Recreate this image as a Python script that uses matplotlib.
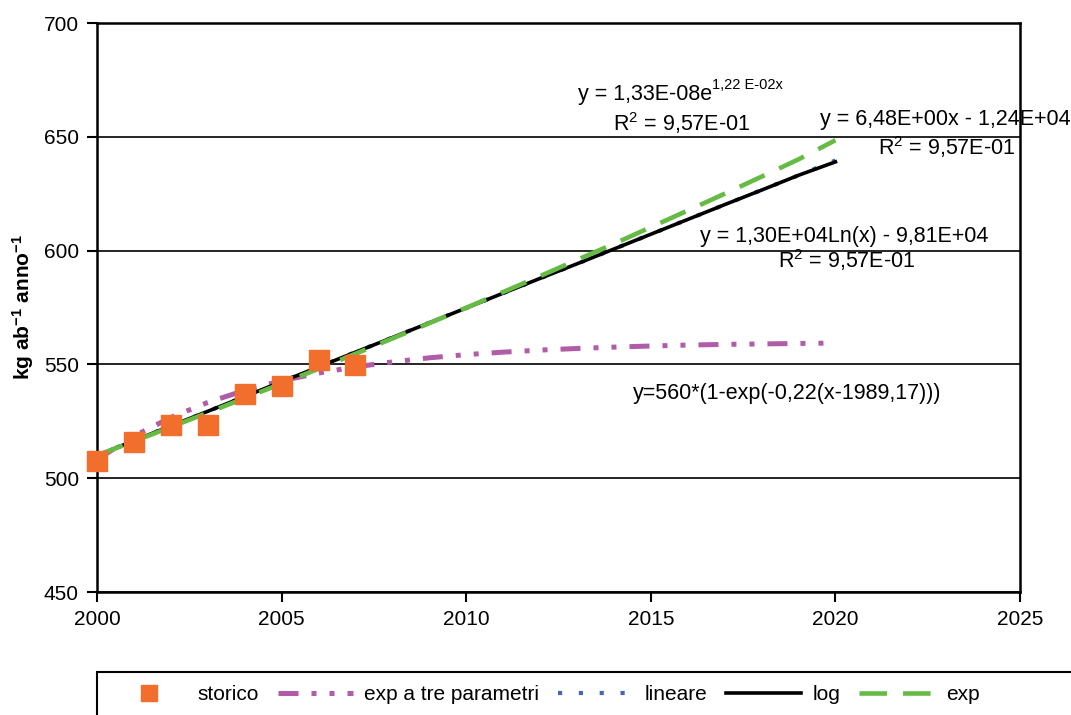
import numpy as np
import matplotlib.pyplot as plt
from matplotlib.patches import Rectangle

plt.rcParams['font.family'] = ['Liberation Sans', 'DejaVu Sans']
plt.rcParams['mathtext.fontset'] = 'custom'
plt.rcParams['mathtext.rm'] = 'Liberation Sans'
plt.rcParams['mathtext.it'] = 'Liberation Sans:italic'
plt.rcParams['mathtext.bf'] = 'Liberation Sans:bold'

# observed values
anni = [2000, 2001, 2002, 2003, 2004, 2005, 2006, 2007]
storico = [507.5, 515.8, 523.2, 523.2, 536.8, 540.4, 551.8, 549.6]

# trend lines
anni_trend = [2000, 2001, 2002, 2003, 2004, 2005, 2006, 2007, 2008, 2009, 2010,
              2011, 2012, 2013, 2014, 2015, 2016, 2017, 2018, 2019, 2020]
exp3 = [508.2, 518.5, 526.7, 533.3, 538.6, 542.8, 546.2, 548.9, 551.1, 552.9, 554.3,
        555.4, 556.3, 557.0, 557.6, 558.1, 558.5, 558.8, 559.0, 559.2, 559.4]
lineare = [510.0, 516.5, 523.0, 529.4, 535.9, 542.4, 548.9, 555.4, 561.8, 568.3, 574.8,
           581.3, 587.8, 594.2, 600.7, 607.2, 613.7, 620.2, 626.6, 633.1, 639.6]
log_ = [510.0, 516.5, 523.0, 529.4, 535.9, 542.4, 548.9, 555.4, 561.8, 568.3, 574.8,
        581.3, 587.8, 594.2, 600.7, 607.2, 613.7, 620.2, 626.6, 633.1, 639.0]
exp_ = [510.0, 516.2, 522.5, 528.8, 535.2, 541.6, 548.1, 554.7, 561.4, 568.1, 574.9,
        581.8, 588.8, 595.9, 603.0, 610.3, 617.6, 625.0, 632.5, 640.1, 648.5]

fig = plt.figure(figsize=(10.71, 7.15), dpi=100)
ax = fig.add_axes([0.0906, 0.172, 0.8618, 0.7958])

ax.plot(anni_trend, exp3, color='#B05CA8', lw=3.6, dashes=(4, 2.6, 1, 2.6, 1, 2.6),
        label='exp a tre parametri', zorder=3)
ax.plot(anni_trend, lineare, color='#4466B8', lw=3, dashes=(1, 4), label='lineare', zorder=3)
ax.plot(anni_trend, log_, color='black', lw=2.6, label='log', zorder=4)
ax.plot(anni_trend, exp_, color='#66BB44', lw=3.3, dashes=(6, 3.5), label='exp', zorder=5)
ax.plot(anni, storico, ls='none', marker='s', ms=15, color='#F26E2C', label='storico',
        zorder=6, clip_on=False)

ax.set_xlim(2000, 2025)
ax.set_ylim(450, 700)
ax.set_xticks([2000, 2005, 2010, 2015, 2020, 2025])
ax.set_yticks([450, 500, 550, 600, 650, 700])
ax.yaxis.grid(True, color='black', lw=1.2)
ax.set_axisbelow(True)
ax.tick_params(labelsize=15, length=7, width=1.5, direction='out', pad=6)
for s in ax.spines.values():
    s.set_linewidth(1.8)
ax.set_ylabel('kg ab$^{\\mathbf{-1}}$ anno$^{\\mathbf{-1}}$', fontsize=15, fontweight='bold', labelpad=6)

fs = 15.5
t1 = ax.text(2013.03, 666.2, 'y = 1,33E-08e', fontsize=fs, va='baseline')
ax.annotate('1,22 E-02x', xy=(1, 0.62), xycoords=t1, fontsize=10.5, va='bottom')
ax.text(2013.98, 652.6, 'R$^2$ = 9,57E-01', fontsize=fs, va='baseline')
ax.text(2019.58, 655.3, 'y = 6,48E+00x - 1,24E+04', fontsize=fs, va='baseline', clip_on=False)
ax.text(2021.15, 642.1, 'R$^2$ = 9,57E-01', fontsize=fs, va='baseline')
ax.text(2016.33, 604.0, 'y = 1,30E+04Ln(x) - 9,81E+04', fontsize=fs, va='baseline')
ax.text(2018.45, 592.5, 'R$^2$ = 9,57E-01', fontsize=fs, va='baseline')
ax.text(2014.52, 534.6, 'y=560*(1-exp(-0,22(x-1989,17)))', fontsize=fs, va='baseline')

h, l = ax.get_legend_handles_labels()
order = [4, 0, 1, 2, 3]
leg = fig.legend([h[i] for i in order], [l[i] for i in order], loc='center left',
                 bbox_to_anchor=(0.0943, 0.028), ncol=5, fontsize=15, frameon=False,
                 handlelength=3.6, columnspacing=0.9, handletextpad=0.55, borderpad=0,
                 markerscale=0.8)
fig.patches.append(Rectangle((0.0906, -0.05), 1.0, 0.1101, transform=fig.transFigure,
                             fill=False, edgecolor='black', lw=1.5))

fig.savefig('out.png', dpi=100)
